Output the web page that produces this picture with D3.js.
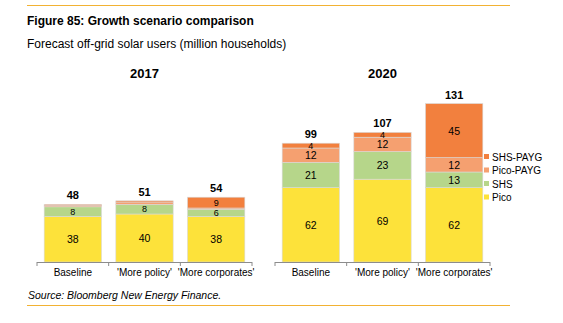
<!DOCTYPE html>
<html>
<head>
<meta charset="utf-8">
<script src="https://cdn.jsdelivr.net/npm/d3@7"></script>
<style>
  body { margin: 0; background: #fff; }
  svg { font-family: Arial, "Liberation Sans", sans-serif; }
</style>
</head>
<body>
<div id="chart"></div>
<script>
var years = ["2017", "2020"];
var scenarios = ["Baseline", "'More policy'", "'More corporates'"];
var seriesNames = ["Pico", "SHS", "Pico-PAYG", "SHS-PAYG"];
var colors = ["#fde23a", "#b6d68a", "#f5a070", "#f2803e"];

// values per year, per scenario: [Pico, SHS, Pico-PAYG, SHS-PAYG]
var values2017 = [[38, 8, 1, 1], [40, 8, 2, 1], [38, 6, 1, 9]];
var values2020 = [[62, 21, 12, 4], [69, 23, 12, 4], [62, 13, 12, 45]];
var totals2017 = [48, 51, 54];
var totals2020 = [99, 107, 131];

var W = 563, H = 323;
var svg = d3.select("#chart").append("svg")
  .attr("width", W).attr("height", H);

// rule lines top and bottom
svg.append("line").attr("x1", 27).attr("x2", 510).attr("y1", 5.5).attr("y2", 5.5)
  .attr("stroke", "#f2b233").attr("stroke-width", 1);
svg.append("line").attr("x1", 27).attr("x2", 510).attr("y1", 305.5).attr("y2", 305.5)
  .attr("stroke", "#f2b233").attr("stroke-width", 1);

svg.append("text").attr("x", 27).attr("y", 25)
  .style("font-size", "12px").style("font-weight", "bold")
  .text("Figure 85: Growth scenario comparison");
svg.append("text").attr("x", 27).attr("y", 48)
  .style("font-size", "12px")
  .text("Forecast off-grid solar users (million households)");
svg.append("text").attr("x", 28).attr("y", 299)
  .style("font-size", "10.5px").style("font-style", "italic")
  .text("Source: Bloomberg New Energy Finance.");

var baseY = 262;
var y = d3.scaleLinear().domain([0, 140]).range([baseY, baseY - 168]);

var panels = [
  {year: years[0], x0: 37, x1: 252, vals: values2017, totals: totals2017},
  {year: years[1], x0: 275, x1: 490, vals: values2020, totals: totals2020}
];

panels.forEach(function(p){
  var x = d3.scaleBand().domain(scenarios).range([p.x0, p.x1]).paddingInner(0.2).paddingOuter(0.1);
  var g = svg.append("g");

  g.append("text").attr("x", (p.x0 + p.x1) / 2).attr("y", 78)
    .attr("text-anchor", "middle")
    .style("font-size", "13px").style("font-weight", "bold")
    .text(p.year);

  var stack = d3.stack().keys([0, 1, 2, 3])(p.vals);

  stack.forEach(function(layer, i){
    g.selectAll(null).data(layer).enter().append("rect")
      .attr("x", function(d, j){ return x(scenarios[j]); })
      .attr("width", x.bandwidth())
      .attr("y", function(d){ return y(d[1]); })
      .attr("height", function(d){ return y(d[0]) - y(d[1]); })
      .attr("fill", colors[i])
      .attr("stroke", "#d9d9d9").attr("stroke-width", 0.6);
  });

  // segment labels (skip the thin ones)
  stack.forEach(function(layer, i){
    layer.forEach(function(d, j){
      var v = d[1] - d[0];
      if (v < 3) return;
      var small = v < 10;
      g.append("text")
        .attr("x", x(scenarios[j]) + x.bandwidth() / 2)
        .attr("y", (y(d[0]) + y(d[1])) / 2 + (small ? 3 : 4))
        .attr("text-anchor", "middle")
        .style("font-size", small ? "9px" : "10.5px")
        .text(v);
    });
  });

  // totals
  g.selectAll(null).data(p.totals).enter().append("text")
    .attr("x", function(d, j){ return x(scenarios[j]) + x.bandwidth() / 2; })
    .attr("y", function(d, j){ return y(d3.sum(p.vals[j])) - 5; })
    .attr("text-anchor", "middle")
    .style("font-size", "11px").style("font-weight", "bold")
    .text(function(d){ return d; });

  // axis
  g.append("line").attr("x1", p.x0).attr("x2", p.x1)
    .attr("y1", baseY + 0.5).attr("y2", baseY + 0.5)
    .attr("stroke", "#8c8c8c");
  var step = (p.x1 - p.x0) / scenarios.length;
  d3.range(scenarios.length + 1).forEach(function(k){
    g.append("line")
      .attr("x1", p.x0 + k * step).attr("x2", p.x0 + k * step)
      .attr("y1", baseY).attr("y2", baseY + 4)
      .attr("stroke", "#8c8c8c");
  });
  g.selectAll(null).data(scenarios).enter().append("text")
    .attr("x", function(d){ return x(d) + x.bandwidth() / 2; })
    .attr("y", 276)
    .attr("text-anchor", "middle")
    .style("font-size", "10px")
    .text(function(d){ return d; });
});

// legend
var legendOrder = [3, 2, 1, 0];
var lg = svg.append("g").attr("transform", "translate(484,157)");
legendOrder.forEach(function(i, k){
  lg.append("rect").attr("x", 0).attr("y", k * 13.5 - 3).attr("width", 5).attr("height", 5)
    .attr("fill", colors[i]);
  lg.append("text").attr("x", 8).attr("y", k * 13.5 + 3.5)
    .style("font-size", "10px")
    .text(seriesNames[i]);
});
</script>
</body>
</html>
